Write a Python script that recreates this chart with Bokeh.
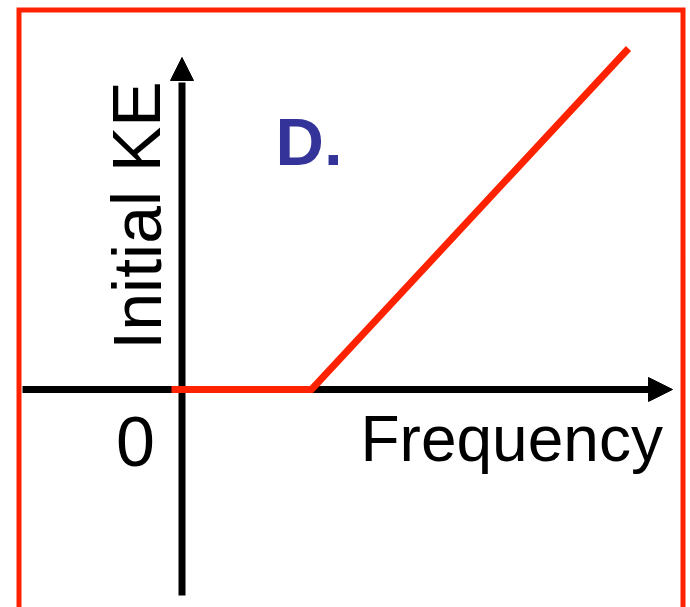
from bokeh.plotting import figure
from bokeh.models import Range1d
from bokeh.embed import file_html
from bokeh.resources import INLINE
from bokeh.core.properties import value

# Data: photoelectric effect, initial KE vs frequency (arbitrary units)
freq = [-0.105, 1.295, 4.465]
ke = [0.0, 0.0, 3.41]

x_label = "Frequency"
y_label = "Initial KE"
origin_label = "0"
panel_label = "D."

RED = "#ff2200"
BLUE = "#333399"

W, H = 690, 607
PAGE0 = 0
# page-pixel helpers; 100 px per unit
OX, OY, S = 181.5, 389.0, 100.0
def X(px):
    return (px - OX) / S
def Y(py):
    return (OY - py) / S

TXT_DY = 24  # baseline compensation

p = figure(width=W, height=H, output_backend="svg", toolbar_location=None,
           x_range=Range1d(X(PAGE0), X(PAGE0 + W)),
           y_range=Range1d(Y(PAGE0 + H), Y(PAGE0)),
           min_border=0)
p.axis.visible = False
p.grid.visible = False
p.outline_line_color = None
p.background_fill_color = "white"

# red frame (bottom open beyond view)
p.line([X(18.5), X(18.5), X(682.5), X(682.5)], [Y(700), Y(9.5), Y(9.5), Y(700)],
       line_color=RED, line_width=5, line_join="miter")

# axes with arrow heads
p.segment(x0=[0, X(22)], y0=[Y(595), 0], x1=[0, X(650)], y1=[Y(82), 0],
          line_color="black", line_width=7)
p.patches(xs=[[X(170), X(193), 0], [X(648), X(648), X(672)]],
          ys=[[Y(80), Y(80), Y(57)], [Y(377), Y(401), 0]],
          fill_color="black", line_color="black", line_width=1)

# data line
p.line(freq, ke, line_color=RED, line_width=7, line_join="miter")

FONT = value("Liberation Sans")
p.text(x=[X(160 - TXT_DY)], y=[Y(215)], text=[y_label], angle=1.5708,
       text_font=FONT, text_font_size="68px", text_align="center",
       text_baseline="alphabetic", text_color="black")
p.text(x=[X(360)], y=[Y(462 - TXT_DY)], text=[x_label],
       text_font=FONT, text_font_size="64px", text_align="left",
       text_baseline="alphabetic", text_color="black")
p.text(x=[X(135)], y=[Y(465 - TXT_DY)], text=[origin_label],
       text_font=FONT, text_font_size="70px", text_align="center",
       text_baseline="alphabetic", text_color="black")
p.text(x=[X(275)], y=[Y(165 - TXT_DY)], text=[panel_label],
       text_font=FONT, text_font_size="67px", text_font_style="bold",
       text_align="left", text_baseline="alphabetic", text_color=BLUE)

open("out.html", "w").write(file_html(p, INLINE))
